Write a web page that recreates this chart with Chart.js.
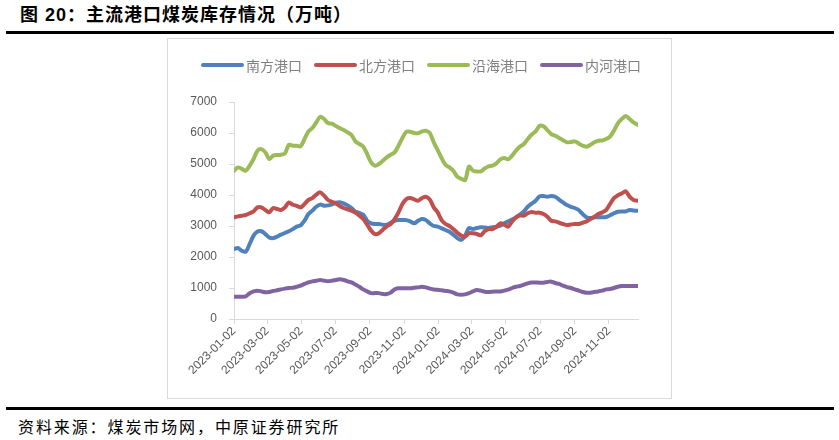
<!DOCTYPE html>
<html>
<head>
<meta charset="utf-8">
<script src="https://cdn.jsdelivr.net/npm/chart.js@4/dist/chart.umd.min.js"></script>
<style>
    body { margin: 0; background: #fff; width: 839px; height: 440px; position: relative; overflow: hidden; }
    .title { position: absolute; left: 20px; top: 5px; font: bold 18px "Liberation Sans", "Noto Sans CJK SC"; letter-spacing: 1px; line-height: 20px; color: #000; white-space: nowrap; }
    .rule { position: absolute; left: 6px; width: 828px; height: 3px; background: #000; }
    .box { position: absolute; left: 167px; top: 38px; width: 503px; height: 359px; border: 1px solid #d9d9d9; }
    .source { position: absolute; left: 18px; top: 416px; font: 16px "Noto Sans CJK SC"; letter-spacing: 1.9px; line-height: 20px; color: #000; white-space: nowrap; }
</style>
</head>
<body>
<div class="title">图 20：主流港口煤炭库存情况（万吨）</div>
<div class="rule" style="top:31px"></div>
<div class="box"><canvas id="stockChart" width="503" height="359"></canvas></div>
<div class="rule" style="top:407px"></div>
<div class="source">资料来源：煤炭市场网，中原证券研究所</div>

<script>
// 주간 데이터 (2023-01-02 ~ 2024-12-23)
const weeks = [
    '2023-01-02','2023-01-09','2023-01-16','2023-01-23','2023-01-30','2023-02-06','2023-02-13','2023-02-20','2023-02-27',
    '2023-03-06','2023-03-13','2023-03-20','2023-03-27','2023-04-03','2023-04-10','2023-04-17','2023-04-24',
    '2023-05-01','2023-05-08','2023-05-15','2023-05-22','2023-05-29','2023-06-05','2023-06-12','2023-06-19','2023-06-26',
    '2023-07-03','2023-07-10','2023-07-17','2023-07-24','2023-07-31','2023-08-07','2023-08-14','2023-08-21','2023-08-28',
    '2023-09-04','2023-09-11','2023-09-18','2023-09-25','2023-10-02','2023-10-09','2023-10-16','2023-10-23','2023-10-30',
    '2023-11-06','2023-11-13','2023-11-20','2023-11-27','2023-12-04','2023-12-11','2023-12-18','2023-12-25',
    '2024-01-01','2024-01-08','2024-01-15','2024-01-22','2024-01-29','2024-02-05','2024-02-12','2024-02-19','2024-02-26',
    '2024-03-04','2024-03-11','2024-03-18','2024-03-25','2024-04-01','2024-04-08','2024-04-15','2024-04-22','2024-04-29',
    '2024-05-06','2024-05-13','2024-05-20','2024-05-27','2024-06-03','2024-06-10','2024-06-17','2024-06-24',
    '2024-07-01','2024-07-08','2024-07-15','2024-07-22','2024-07-29','2024-08-05','2024-08-12','2024-08-19','2024-08-26',
    '2024-09-02','2024-09-09','2024-09-16','2024-09-23','2024-09-30','2024-10-07','2024-10-14','2024-10-21','2024-10-28',
    '2024-11-04','2024-11-11','2024-11-18','2024-11-25','2024-12-02','2024-12-09','2024-12-16','2024-12-23'
];

const southPort = [
    2260, 2290, 2200, 2170, 2420, 2690, 2820, 2830, 2740, 2630,
    2610, 2655, 2720, 2775, 2830, 2900, 2980, 3020, 3170, 3385,
    3495, 3620, 3690, 3655, 3665, 3700, 3750, 3765, 3730, 3665,
    3580, 3460, 3420, 3365, 3170, 3085, 3065, 3065, 3040, 3040,
    3105, 3170, 3190, 3190, 3190, 3150, 3085, 3170, 3225, 3190,
    3080, 3000, 2980, 2925, 2870, 2815, 2720, 2610, 2550, 2690,
    2935, 2900, 2935, 2960, 2950, 2935, 2960, 2980, 3010, 3085,
    3150, 3205, 3280, 3365, 3470, 3620, 3720, 3815, 3955, 3965,
    3945, 3965, 3945, 3850, 3760, 3675, 3620, 3580, 3515, 3385,
    3280, 3255, 3280, 3280, 3280, 3290, 3345, 3410, 3460, 3470,
    3470, 3515, 3500, 3490
];

const northPort = [
    3280, 3310, 3330, 3355, 3410, 3470, 3600, 3600, 3515, 3440,
    3580, 3550, 3515, 3600, 3760, 3685, 3650, 3600, 3710, 3840,
    3900, 4010, 4085, 3980, 3840, 3780, 3730, 3645, 3580, 3535,
    3495, 3430, 3335, 3225, 3045, 2850, 2740, 2765, 2880, 2990,
    3065, 3225, 3440, 3710, 3870, 3900, 3860, 3815, 3900, 3945,
    3850, 3600, 3440, 3190, 3065, 3000, 2900, 2785, 2690, 2655,
    2765, 2765, 2740, 2700, 2830, 2900, 2900, 2980, 3085, 3045,
    2980, 3150, 3280, 3335, 3335, 3410, 3450, 3430, 3430, 3385,
    3300, 3170, 3150, 3105, 3065, 3030, 3050, 3065, 3065, 3105,
    3150, 3225, 3300, 3385, 3440, 3515, 3710, 3900, 3990, 4050,
    4120, 3945, 3840, 3815
];

const coastalPort = [
    4785, 4890, 4840, 4785, 4945, 5160, 5430, 5480, 5375, 5160,
    5270, 5290, 5300, 5340, 5620, 5590, 5590, 5570, 5805, 6050,
    6160, 6340, 6525, 6450, 6320, 6300, 6225, 6160, 6095, 6020,
    5935, 5730, 5645, 5560, 5320, 5050, 4945, 5000, 5105, 5215,
    5300, 5375, 5590, 5840, 6040, 6040, 6000, 5990, 6050, 6075,
    6000, 5700, 5450, 5190, 4975, 4890, 4785, 4590, 4525, 4480,
    4915, 4785, 4760, 4760, 4860, 4925, 4945, 5020, 5150, 5190,
    5150, 5270, 5430, 5560, 5645, 5805, 5950, 6050, 6225, 6215,
    6095, 5965, 5910, 5840, 5770, 5700, 5710, 5730, 5665, 5590,
    5560, 5620, 5700, 5750, 5760, 5805, 5880, 6075, 6310, 6450,
    6545, 6450, 6340, 6270
];

const riverPort = [
    720, 720, 720, 730, 830, 890, 915, 890, 860, 870,
    905, 925, 955, 980, 1000, 1010, 1040, 1075, 1130, 1180,
    1215, 1235, 1260, 1235, 1215, 1235, 1260, 1280, 1260, 1215,
    1180, 1110, 1040, 955, 890, 835, 835, 835, 805, 805,
    850, 955, 990, 990, 990, 990, 1010, 1020, 1040, 1020,
    980, 950, 945, 925, 905, 890, 850, 795, 785, 795,
    835, 890, 935, 915, 880, 870, 880, 890, 890, 915,
    945, 1000, 1040, 1065, 1105, 1150, 1175, 1180, 1170, 1170,
    1195, 1205, 1160, 1130, 1075, 1030, 1000, 955, 915, 870,
    850, 850, 870, 890, 915, 955, 965, 1000, 1040, 1065,
    1065, 1065, 1065, 1065
];

const seriesNames = ['南方港口', '北方港口', '沿海港口', '内河港口'];
const seriesColors = ['#4F81BD', '#C0504D', '#9BBB59', '#8064A2'];

const tickLabels = [
    '2023-01-02', '2023-03-02', '2023-05-02', '2023-07-02', '2023-09-02', '2023-11-02',
    '2024-01-02', '2024-03-02', '2024-05-02', '2024-07-02', '2024-09-02', '2024-11-02'
];
const yTicks = [0, 1000, 2000, 3000, 4000, 5000, 6000, 7000];

// 기준일(2023-01-02)로부터의 일수
function dayIndex(s) {
    const p = s.split('-').map(Number);
    return (Date.UTC(p[0], p[1] - 1, p[2]) - Date.UTC(2023, 0, 2)) / 86400000;
}

function toPoints(values) {
    return values.map((v, i) => ({ x: dayIndex(weeks[i]), y: v }));
}

// 범례: 선 + 글자 (엑셀 스타일)
const lineLegend = {
    id: 'lineLegend',
    afterDraw(chart) {
        const ctx = chart.ctx;
        const lineLen = 43, textGap = 2, itemGap = 12;
        ctx.save();
        ctx.font = '14px "Noto Sans CJK SC"';
        const widths = seriesNames.map(n => ctx.measureText(n).width);
        const total = widths.reduce((a, w) => a + lineLen + textGap + w, 0) + itemGap * (seriesNames.length - 1);
        let x = 253 - total / 2;
        const y = 26;
        seriesNames.forEach((name, i) => {
            ctx.strokeStyle = seriesColors[i];
            ctx.lineWidth = 4;
            ctx.lineCap = 'round';
            ctx.beginPath();
            ctx.moveTo(x + 2, y);
            ctx.lineTo(x + lineLen - 2, y);
            ctx.stroke();
            ctx.fillStyle = '#808080';
            ctx.textBaseline = 'middle';
            ctx.textAlign = 'left';
            ctx.fillText(name, x + lineLen + textGap, y + 1);
            x += lineLen + textGap + widths[i] + itemGap;
        });
        ctx.restore();
    }
};

function renderChart() {
    const ctx = document.getElementById('stockChart').getContext('2d');
    const allSeries = [southPort, northPort, coastalPort, riverPort];

    new Chart(ctx, {
        type: 'line',
        data: {
            datasets: allSeries.map((vals, i) => ({
                label: seriesNames[i],
                data: toPoints(vals),
                borderColor: seriesColors[i],
                backgroundColor: seriesColors[i],
                borderWidth: 4,
                borderCapStyle: 'round',
                borderJoinStyle: 'round',
                pointRadius: 0,
                tension: 0.3,
                order: allSeries.length - i
            }))
        },
        options: {
            responsive: false,
            animation: false,
            devicePixelRatio: 1,
            layout: { padding: { top: 63, right: 33, left: 0, bottom: 0 } },
            plugins: { legend: { display: false }, tooltip: { enabled: false } },
            scales: {
                x: {
                    type: 'linear',
                    min: 0,
                    max: 722,
                    border: { display: true, color: '#d9d9d9', width: 1 },
                    grid: { drawOnChartArea: false, drawTicks: true, tickLength: 5, color: '#d9d9d9' },
                    afterBuildTicks: (scale) => {
                        scale.ticks = tickLabels.map(s => ({ value: dayIndex(s) }));
                    },
                    afterFit: (scale) => { scale.height = 79; },
                    ticks: {
                        autoSkip: false,
                        maxRotation: 45,
                        minRotation: 45,
                        padding: 0,
                        color: '#595959',
                        font: { family: '"Liberation Sans", Arial', size: 12 },
                        callback: (value, index) => tickLabels[index]
                    }
                },
                y: {
                    min: 0,
                    max: 7000,
                    border: { display: true, color: '#d9d9d9', width: 1 },
                    grid: { drawOnChartArea: false, drawTicks: true, tickLength: 5, color: '#d9d9d9' },
                    afterBuildTicks: (scale) => {
                        scale.ticks = yTicks.map(v => ({ value: v }));
                    },
                    afterFit: (scale) => { scale.width = 66; },
                    ticks: {
                        padding: 12,
                        color: '#595959',
                        font: { family: '"Liberation Sans", Arial', size: 12 },
                        callback: (value) => String(value)
                    }
                }
            }
        },
        plugins: [lineLegend]
    });
}

renderChart();
</script>
</body>
</html>
